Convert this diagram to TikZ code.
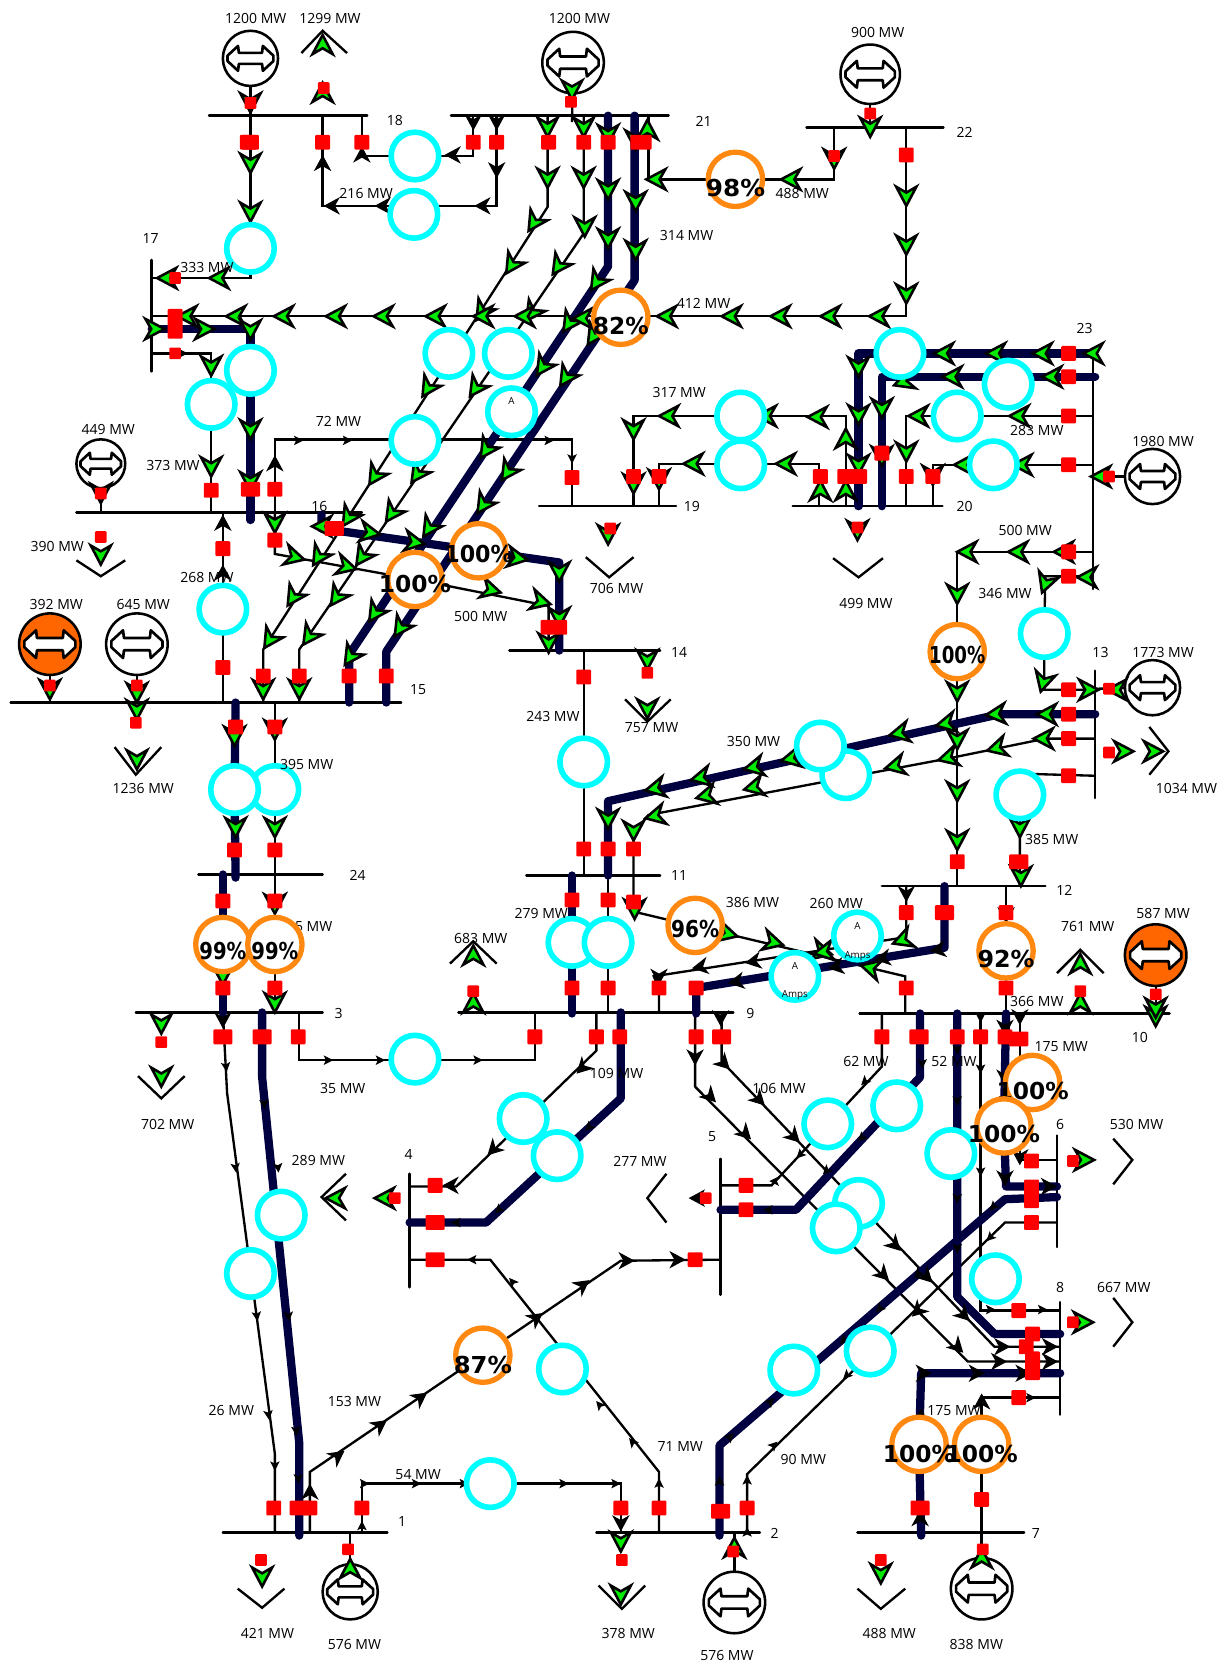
\documentclass[tikz,border=0pt]{standalone}
\usepackage{fontspec}
\usepackage{graphicx}
\setmainfont{Open Sans}
\newfontfamily\pctf{DejaVu Sans}
\definecolor{navyl}{RGB}{0,0,64}
\definecolor{cyanc}{RGB}{0,255,255}
\definecolor{orangec}{RGB}{255,136,16}
\definecolor{orangef}{RGB}{255,102,0}
\definecolor{redb}{RGB}{255,0,0}
\definecolor{flowg}{RGB}{0,235,0}
\pgfdeclarelayer{back}
\pgfdeclarelayer{mid}
\pgfsetlayers{back,mid,main}
\tikzset{
 ln/.style={draw=black,line width=1.1pt,line join=miter},
 tk/.style={draw=navyl,line width=3.9pt,line cap=round,line join=round},
 busbar/.style={draw=black,line width=1.2pt,line cap=round},
 cyc/.style={circle,draw=cyanc,fill=white,line width=2.65pt,minimum size=22.4pt,inner sep=0pt},
 orc/.style={circle,draw=orangec,fill=white,line width=2.5pt,minimum size=25.6pt,inner sep=0pt},
 brk/.style={rectangle,fill=redb,rounded corners=.5pt,minimum width=7pt,minimum height=7pt,inner sep=0pt},
 brw/.style={brk,minimum width=9pt},
 brs/.style={brk,minimum width=5.5pt,minimum height=5.5pt},
 lab/.style={font=\fontsize{6.6}{7.5}\selectfont,inner sep=0pt,text=black},
 ampst/.style={font=\fontsize{4.6}{5}\selectfont,inner sep=0pt},
 gencirc/.style={circle,draw=black,line width=1.2pt,inner sep=0pt},
 fg/.pic={\draw[fill=flowg,draw=black,line width=1.2pt,miter limit=6] (9,0)--(-9,9.5)--(-3.5,0)--(-9,-9.5)--cycle;},
 fk/.pic={\draw[fill=black,draw=black,line width=.5pt] (7,0)--(-6,7)--(-2,0)--(-6,-7)--cycle;},
 fs/.pic={\fill[black] (5,0)--(-4,4.5)--(-2,0)--(-4,-4.5)--cycle;},
}
\newcommand{\gensym}[5]{% name x y r fill
 \node[gencirc,fill=#5,minimum size=#4pt] (#1) at (#2,#3) {};
 \begin{scope}[shift={(#2,#3)},scale=#4]
  \draw[fill=white,line width=1.25pt,line join=round]
   (-.83,-.1)--(-.83,.1)--(-.45,.45)--(-.42,.2)--(.42,.2)--(.45,.45)--(.83,.1)--(.83,-.1)--(.45,-.45)--(.42,-.2)--(-.42,-.2)--(-.45,-.45)--cycle;
 \end{scope}}
\begin{document}
\begin{tikzpicture}[x=.5pt,y=-.5pt]
\useasboundingbox (0,0) rectangle (1160,1568);
% cyan circles
\foreach \n/\x/\y in {c18t/391/147,c18b/390/202,c17a/236/234,c17b/236/349,c2a/423/333,c2b/479/333,cAmA/482/388,c17c/199/381,c16/391/415,c19a/698/392,c19b/698/438,c23a/848/333,c23b/950/362,c23c/902/392,c23d/936/438,c13/984/597,c15/210/574,c14/550/718,c11a/797/730,c11b/773/703,c12/961/749,c24b/259/744,c24a/221/744,c9a/539/888,c9b/573/888,cAmB/808/882,cAmC/749/920,c3/391/998,c4a/493/1054,c4b/525/1089,c5a/780/1059,c5b/845/1042,c8a/896/1087,c5c/809/1134,c5d/788/1157,c8b/938/1205,c2c/820/1273,c2d/748/1291,c4c/530/1290,c1a/265/1145,c1b/236/1200,c1c/462/1398}
 {\node[cyc] (\n) at (\x,\y) {};}
\node[ampst] (ta1) at (482,378) {A};
\node[ampst] (ta2) at (808,873) {A};
\node[ampst] (ta3) at (808,901) {Amps};
\node[ampst] (ta4) at (749,910) {A};
\node[ampst] (ta5) at (749,938) {Amps};
% generators
\gensym{gA}{236}{55}{26}{white}
\gensym{gB}{540}{59}{29}{white}
\gensym{gC}{820}{70}{28}{white}
\gensym{gD}{95}{437}{23}{white}
\gensym{gE}{47}{607}{29}{orangef}
\gensym{gF}{129}{607}{29}{white}
\gensym{gG}{1086}{449}{26}{white}
\gensym{gH}{1086}{648}{26}{white}
\gensym{gI}{1089}{900}{29}{orangef}
\gensym{gJ}{330}{1500}{26}{white}
\gensym{gK}{692}{1510}{29}{white}
\gensym{gL}{925}{1497}{29}{white}
% flow arrows lying over a generator
\foreach \x/\y/\a in {539/85/270,95/465/270,1052/650/180,330/1478/90,925/1468/90}
 {\pic[rotate=\a] at (\x,\y) {fg};}
% breakers
\foreach \x/\y [count=\i] in {235/134,304/134,341/134,446/134,468/134,517/134,550/134,573/134,854/146,199/462,259/461,259/509,210/517,210/629,248/637,282/637,329/637,364/637,222/685,259/685,221/801,259/801,210/849,259/849,210/931,259/931,539/450,597/449,621/449,773/449,854/449,879/449,1007/333,1007/355,1007/392,1007/438,1007/520,1007/543,1007/650,1007/673,1007/696,1007/731,550/638,550/800,573/800,597/800,902/812,539/848,573/848,597/850,539/931,573/931,621/931,656/931,854/860,854/931,948/860,948/931,504/977,562/977,584/977,656/977,831/977,902/977,924/977,947/977,281/977,703/1117,703/1140,655/1187,410/1117,972/1094,972/1152,960/1235,960/1317,973/1257,967/1269,258/1421,292/1421,341/1421,585/1421,621/1421,704/1421,925/1413}
 {\node[brk] (r\i) at (\x,\y) {};}
\foreach \x/\y [count=\i] in {235/134,210/977,247/977,680/977,866/977,960/979,890/860,410/1152,410/1187,960/812,282/1421,679/1424,867/1421,236/461,315/498}
 {\node[brw] (w\i) at (\x,\y) {};}
\node[brk,minimum width=10pt] (v1) at (604,134) {};
\node[brk,minimum width=12.5pt] (v2) at (522,591) {};
\node[brk,minimum width=14pt] (v3) at (803,449) {};
\node[brk,minimum height=14pt] (v4) at (165,305) {};
\node[brk,minimum height=13.5pt] (v5) at (972,1125) {};
\node[brk,minimum height=13.5pt] (v6) at (973,1287) {};
\node[brk] (v7) at (831,427) {};
\foreach \x/\y [count=\i] in {236/97,305/83,538/96,786/147,820/107,95/465,95/506,47/646,129/646,128/681,165/262,165/333,575/498,610/634,808/497,1045/449,1045/649,1045/709,446/934,152/982,1018/934,1089/937,372/1129,665/1129,1011/1094,1011/1246,246/1470,328/1460,586/1470,691/1462,830/1470,926/1460}
 {\node[brs] (s\i) at (\x,\y) {};}
% labels
\foreach \x/\y/\tx [count=\i] in {241/17/1200 MW,311/17/1299 MW,546/17/1200 MW,827/31/900 MW,372/114/18,663/114/21,909/125/22,142/225/17,345/182/216 MW,756/182/488 MW,647/222/314 MW,195/252/333 MW,663/286/412 MW,1022/310/23,319/397/72 MW,640/370/317 MW,977/406/283 MW,1096/416/1980 MW,102/405/449 MW,163/439/373 MW,301/477/16,652/477/19,909/477/20,966/500/500 MW,54/515/390 MW,195/544/268 MW,581/555/706 MW,816/569/499 MW,947/559/346 MW,53/570/392 MW,135/570/645 MW,453/581/500 MW,394/650/15,640/615/14,1037/615/13,1096/615/1773 MW,521/675/243 MW,614/686/757 MW,710/699/350 MW,289/720/395 MW,135/743/1236 MW,1118/743/1034 MW,991/791/385 MW,337/825/24,640/825/11,1003/839/12,288/873/395 MW,510/861/279 MW,709/850/386 MW,788/851/260 MW,1096/861/587 MW,1025/873/761 MW,453/884/683 MW,319/955/3,707/955/9,977/944/366 MW,1074/978/10,1000/986/175 MW,816/1000/62 MW,899/1000/52 MW,581/1012/109 MW,323/1026/35 MW,734/1026/106 MW,158/1060/702 MW,999/1060/6,1071/1060/530 MW,671/1071/5,385/1088/4,300/1094/289 MW,603/1094/277 MW,999/1213/8,1059/1213/667 MW,334/1321/153 MW,218/1329/26 MW,899/1329/175 MW,641/1363/71 MW,757/1375/90 MW,394/1389/54 MW,379/1434/1,730/1445/2,976/1445/7,252/1539/421 MW,592/1539/378 MW,838/1539/488 MW,334/1550/576 MW,920/1550/838 MW,685/1560/576 MW}
 {\node[lab] (l\i) at (\x,\y) {\tx};}
% orange circles: name/x/y/text/horizontal squeeze/text offset
\foreach \n/\x/\y/\tx/\s/\d in {oA/693/169/98\%/1.06/8,oB/585/299/82\%/1/8,oD/391/546/100\%/1/4,oC/451/519/100\%/.95/3,oE/902/614/100\%/.78/3,oF/655/872/96\%/.86/3,oG/210/890/99\%/.84/6,oH/259/890/99\%/.84/6,oI/948/896/92\%/1.02/8,oJ/973/1020/100\%/1/8,oK/946/1061/100\%/1/8,oL/455/1277/87\%/1.04/9,oM/866/1361/100\%/1/9,oN/925/1361/100\%/1/9}
 {\node[orc] (\n) at (\x,\y) {};
  \node[inner sep=0pt,font=\pctf\bfseries\fontsize{11}{11}\selectfont] (t\n) at (\x,\y+\d) {\scalebox{\s}[1]{\tx}};}
\begin{pgfonlayer}{back}
\fill[white] (0,0) rectangle (1160,1568);
% buses
\foreach \a/\b/\c in {197/346/109,425/630/109,760/889/120,72/341/483,508/637/477,747/888/477,10/378/662,480/622/613,187/304/824,496/622/825,831/985/835,128/304/954,432/691/954,810/1102/955,210/365/1444,562/716/1444,808/965/1444}
 {\draw[busbar] (\a,\c)--(\b,\c);}
\foreach \a/\b/\c in {143/245/350,1030/333/555,1032/632/752,386/1106/1213,679/1092/1220,996/1070/1175,999/1227/1333}
 {\draw[busbar] (\a,\b)--(\a,\c);}
% thin connectors
\draw[ln] (gA.center)--(236,109)--(c17a.center)--(236,262)--(143,262);
\draw[ln] (304,109)--(304,194)--(468,194)--(468,109);
\draw[ln] (341,109)--(341,147)--(c18t.center)--(446,147)--(446,109);
\draw[ln] (516,109)--(516,195)--(248,612)--(248,662);
\draw[ln] (550,109)--(550,220)--(282,612)--(282,662);
\draw[ln] (611,109)--(611,169)--(oA.center)--(786,169)--(786,120);
\draw[ln] (854,120)--(854,298)--(143,298);
\draw[ln] (820,120)--(gC.center);
\draw[ln] (539,115)--(gB.center);
\draw[ln] (143,333)--(199,333)--(c17c.center)--(199,483);
\draw[ln] (259,483)--(259,414)--(539,414)--(539,477);
\draw[ln] (259,483)--(259,522)--(oD.center)--(517,571)--(517,613);
\draw[ln] (210,662)--(c15.center)--(210,483);
\draw[ln] (259,662)--(c24b.center)--(259,824)--(oH.center)--(259,954);
\draw[ln] (550,613)--(c14.center)--(550,825);
\draw[ln] (597,825)--(597,785)--(611,768)--(897,714)--(985,696)--(1032,696);
\draw[ln] (573,825)--(c9b.center)--(573,954);
\draw[ln] (597,825)--(597,859)--(853,920)--(853,954);
\draw[ln] (854,835)--(854,883)--(616,920)--(621,931)--(621,954);
\draw[ln] (1030,520)--(902,520)--(oE.center)--(902,835);
\draw[ln] (1030,543)--(985,543)--(c13.center)--(984,650)--(1032,650);
\draw[ln] (1032,731)--(961,729)--(c12.center)--(961,835);
\draw[ln] (948,835)--(oI.center)--(948,955);
\draw[ln] (1030,392)--(854,392)--(854,477);
\draw[ln] (1030,438)--(879,438)--(879,477);
\draw[ln] (772,477)--(772,437)--(621,437)--(621,477);
\draw[ln] (797,477)--(797,392)--(597,392)--(597,477);
\draw[ln] (gG.center)--(1030,449);
\draw[ln] (gH.center)--(1032,649);
\draw[ln] (282,954)--(282,999)--(504,999)--(504,954);
\draw[ln] (562,954)--(562,990)--(430,1118)--(386,1118);
\draw[ln] (655,954)--(655,1024)--(912,1283)--(999,1283);
\draw[ln] (680,954)--(680,1000)--(937,1269)--(999,1269);
\draw[ln] (831,955)--(831,1005)--(727,1117)--(679,1117);
\draw[ln] (924,955)--(924,1235)--(999,1235);
\draw[ln] (961,955)--(961,1093)--(996,1093);
\draw[ln] (996,1152)--(947,1152)--(704,1389)--(704,1444);
\draw[ln] (999,1317)--(925,1317)--(oN.center)--(925,1444)--(gL.center);
\draw[ln] (210,954)--(214,1030)--(259,1370)--(259,1444);
\draw[ln] (292,1444)--(292,1387)--(585,1188)--(679,1187);
\draw[ln] (341,1444)--(341,1398)--(c1c.center)--(585,1398)--(585,1444);
\draw[ln] (621,1444)--(621,1387)--(462,1187)--(386,1187);
\draw[ln] (gJ.center)--(330,1444);
\draw[ln] (gK.center)--(692,1444);
\draw[ln] (gE.center)--(47,662);
\draw[ln] (gF.center)--(129,662);
\draw[ln] (gD.center)--(95,483);
\draw[ln] (gI.center)--(1089,955);
% load chevrons
\foreach \a/\b/\c/\d/\e/\f in {284/50/304/29/327/50,72/528/95/543/118/528,108/704/128/730/152/704,552/525/574/544/597/525,589/659/610/680/632/659,785/526/809/544/832/526,1083/685/1101/708/1083/730,130/1014/152/1035/174/1014,424/908/446/887/468/908,996/917/1018/895/1040/917,326/1106/303/1128/326/1150,628/1106/610/1129/628/1152,1049/1073/1067/1093/1049/1116,1049/1223/1067/1246/1049/1269,224/1497/247/1515/268/1497,564/1494/586/1516/608/1494,808/1497/830/1516/853/1497}
 {\draw[ln] (\a,\b)--(\c,\d)--(\e,\f);}
% thick connectors
\draw[tk] (143,310)--(236,310)--(c17b.center)--(236,490);
\draw[tk] (573,109)--(573,251)--(329,617)--(329,662);
\draw[tk] (598,109)--(598,264)--(364,614)--(364,662);
\draw[tk] (303,485)--(303,498)--(527,530)--(527,613);
\draw[tk] (222,662)--(c24a.center)--(222,827);
\draw[tk] (210,824)--(oG.center)--(210,955);
\draw[tk] (1032,673)--(942,673)--(573,755)--(573,825);
\draw[tk] (539,825)--(c9a.center)--(539,955);
\draw[tk] (890,835)--(890,893)--(656,931)--(656,955);
\draw[tk] (1030,333)--(809,333)--(809,477);
\draw[tk] (1032,355)--(831,355)--(831,477);
\draw[tk] (247,954)--(247,1015)--(282,1360)--(282,1447);
\draw[tk] (585,954)--(585,1035)--(458,1152)--(386,1152);
\draw[tk] (867,955)--(867,1015)--(750,1140)--(679,1140);
\draw[tk] (902,955)--(902,1222)--(937,1257)--(999,1257);
\draw[tk] (948,955)--(oK.center)--(948,1118)--(996,1118);
\draw[tk] (996,1128)--(947,1130)--(678,1362)--(678,1447);
\draw[tk] (999,1294)--(868,1294)--(oM.center)--(868,1447);
\end{pgfonlayer}
\begin{pgfonlayer}{mid}
% green flow arrows
\foreach \x/\y/\a in {236/97/270,236/154/270,236/200/270,206/262/180,157/262/180,304/42/90,304/87/90,516/120/270,550/120/270,516/168/270,550/168/270,503/210/237,482/250/237,454/294/237,551/214/270,526/251/235,501/295/235,403/366/237,448/366/235,353/449/237,328/488/237,300/525/237,276/563/237,254/603/237,393/447/235,369/484/235,341/525/235,317/563/235,291/600/235,248/650/270,282/650/270,573/127/270,573/179/270,573/225/270,562/266/236,536/305/236,511/346/236,458/424/236,404/498/236,353/578/236,330/619/236,599/132/270,599/190/270,599/236/270,559/317/236,533/356/236,478/445/236,455/476/236,377/592/236,610/122/90,618/169/180,745/169/180,786/150/270,820/120/270,854/185/270,854/231/270,854/277/270,828/298/180,782/298/180,735/298/180,689/298/180,628/298/180,549/300/180,494/298/180,455/298/180,410/298/180,361/298/180,316/298/180,267/298/180,222/298/180,176/298/180,193/310/0,146/310/0,236/311/270,199/345/270,236/405/270,199/440/270,236/454/270,95/523/270,259/493/270,278/525/345,327/534/345,303/496/180,349/502/350,391/511/350,488/526/350,527/539/270,527/582/270,463/556/345,510/567/345,517/606/270,610/622/270,610/668/270,573/504/270,808/500/270,47/650/270,129/653/270,129/669/270,129/716/270,221/694/270,259/688/270,222/780/270,259/780/270,259/852/270,210/919/270,259/945/270,773/462/90,797/462/90,797/413/90,770/393/180,722/392/180,630/392/180,597/405/270,740/437/180,653/437/180,621/452/270,597/456/270,1030/333/180,982/333/180,938/333/180,889/333/180,809/346/270,809/391/270,809/438/270,991/355/180,897/355/180,851/360/200,831/385/270,831/430/270,960/392/180,865/392/180,854/426/270,963/438/180,908/438/180,879/448/270,1037/449/180,1002/520/180,959/520/180,911/520/180,902/560/270,1024/544/180,985/550/250,983/643/255,1026/650/0,986/673/180,938/673/185,891/682/192,847/691/192,745/715/192,710/723/192,660/733/192,617/743/192,573/772/270,983/696/180,939/705/195,893/714/195,843/722/193,710/742/193,665/750/193,617/769/193,597/783/270,902/697/270,902/746/270,902/792/270,902/652/270,961/780/270,962/826/270,1059/708/0,1087/708/0,598/857/270,686/880/345,729/888/345,775/897/345,820/912/165,850/886/200,776/897/190,1022/1093/0,1021/1246/0,1089/958/270,1018/945/90,1018/908/90,446/945/90,446/900/90,152/965/270,152/1015/270,316/1129/180,362/1129/180,1089/950/270,585/1453/270,585/1503/270,247/1486/270,830/1483/270,692/1458/90}
 {\pic[rotate=\a] at (\x,\y) {fg};}
% black flow arrows
\foreach \x/\y/\a in {304/154/90,313/194/180,361/194/180,455/194/180,468/160/270,468/115/270,446/115/270,341/146/90,427/146/180,210/493/90,210/540/90,210/961/270,259/437/90,854/842/270,679/959/270,655/996/270,682/1002/315,715/1036/315,748/1071/315,669/1033/315,702/1068/315,710/906/190,660/911/190,621/920/270,884/895/190,832/903/190,788/911/190,694/925/190,961/958/270,961/1090/270,988/1118/0,947/968/270,947/1015/270,947/1110/270,865/1235/225,843/1173/315,832/1201/315,873/1203/315,908/1239/315,902/1269/315,944/1269/0,989/1269/0,941/1283/0,989/1283/0,870/1294/0,920/1294/0,964/1294/0,925/1321/90,867/1431/90,292/1406/90,318/1372/36,358/1343/36,396/1317/36,505/1242/36,549/1211/36,590/1188/0,638/1187/0,425/1117/180,465/1083/225,549/1006/225,948/862/270,585/1435/270,657/1129/180}
 {\pic[rotate=\a] at (\x,\y) {fk};}
\foreach \x/\y/\a in {281/1393/270,279/1348/275,262/1100/275,249/1040/275,272/1240/275,213/1005/277,222/1100/277,242/1240/277,253/1333/277,259/1381/270,309/999/0,358/999/0,450/999/0,281/415/0,327/415/0,517/415/0,539/432/270,343/1398/0,392/1398/0,437/1398/0,531/1398/0,580/1398/0,341/1438/90,621/1398/90,596/1359/130,565/1324/130,483/1208/130,445/1187/180,678/1396/90,688/1354/45,726/1321/45,704/1395/90,729/1362/45,704/1444/90,869/1002/270,812/1072/225,815/1019/225,754/1088/225,730/1113/180,724/1140/180,779/1103/225,936/1137/225,933/1166/225,865/1200/225,829/1233/225,795/1263/225,798/1296/225,902/989/270,902/1037/270,902/1129/270,902/1176/270,924/959/270,924/1007/270,924/1104/270,933/1234/0,982/1234/0,971/1317/0,868/1332/90,430/1152/180,470/1140/225,555/1062/225,172/333/0}
 {\pic[rotate=\a] at (\x,\y) {fs};}
\end{pgfonlayer}
\end{tikzpicture}
\end{document}
